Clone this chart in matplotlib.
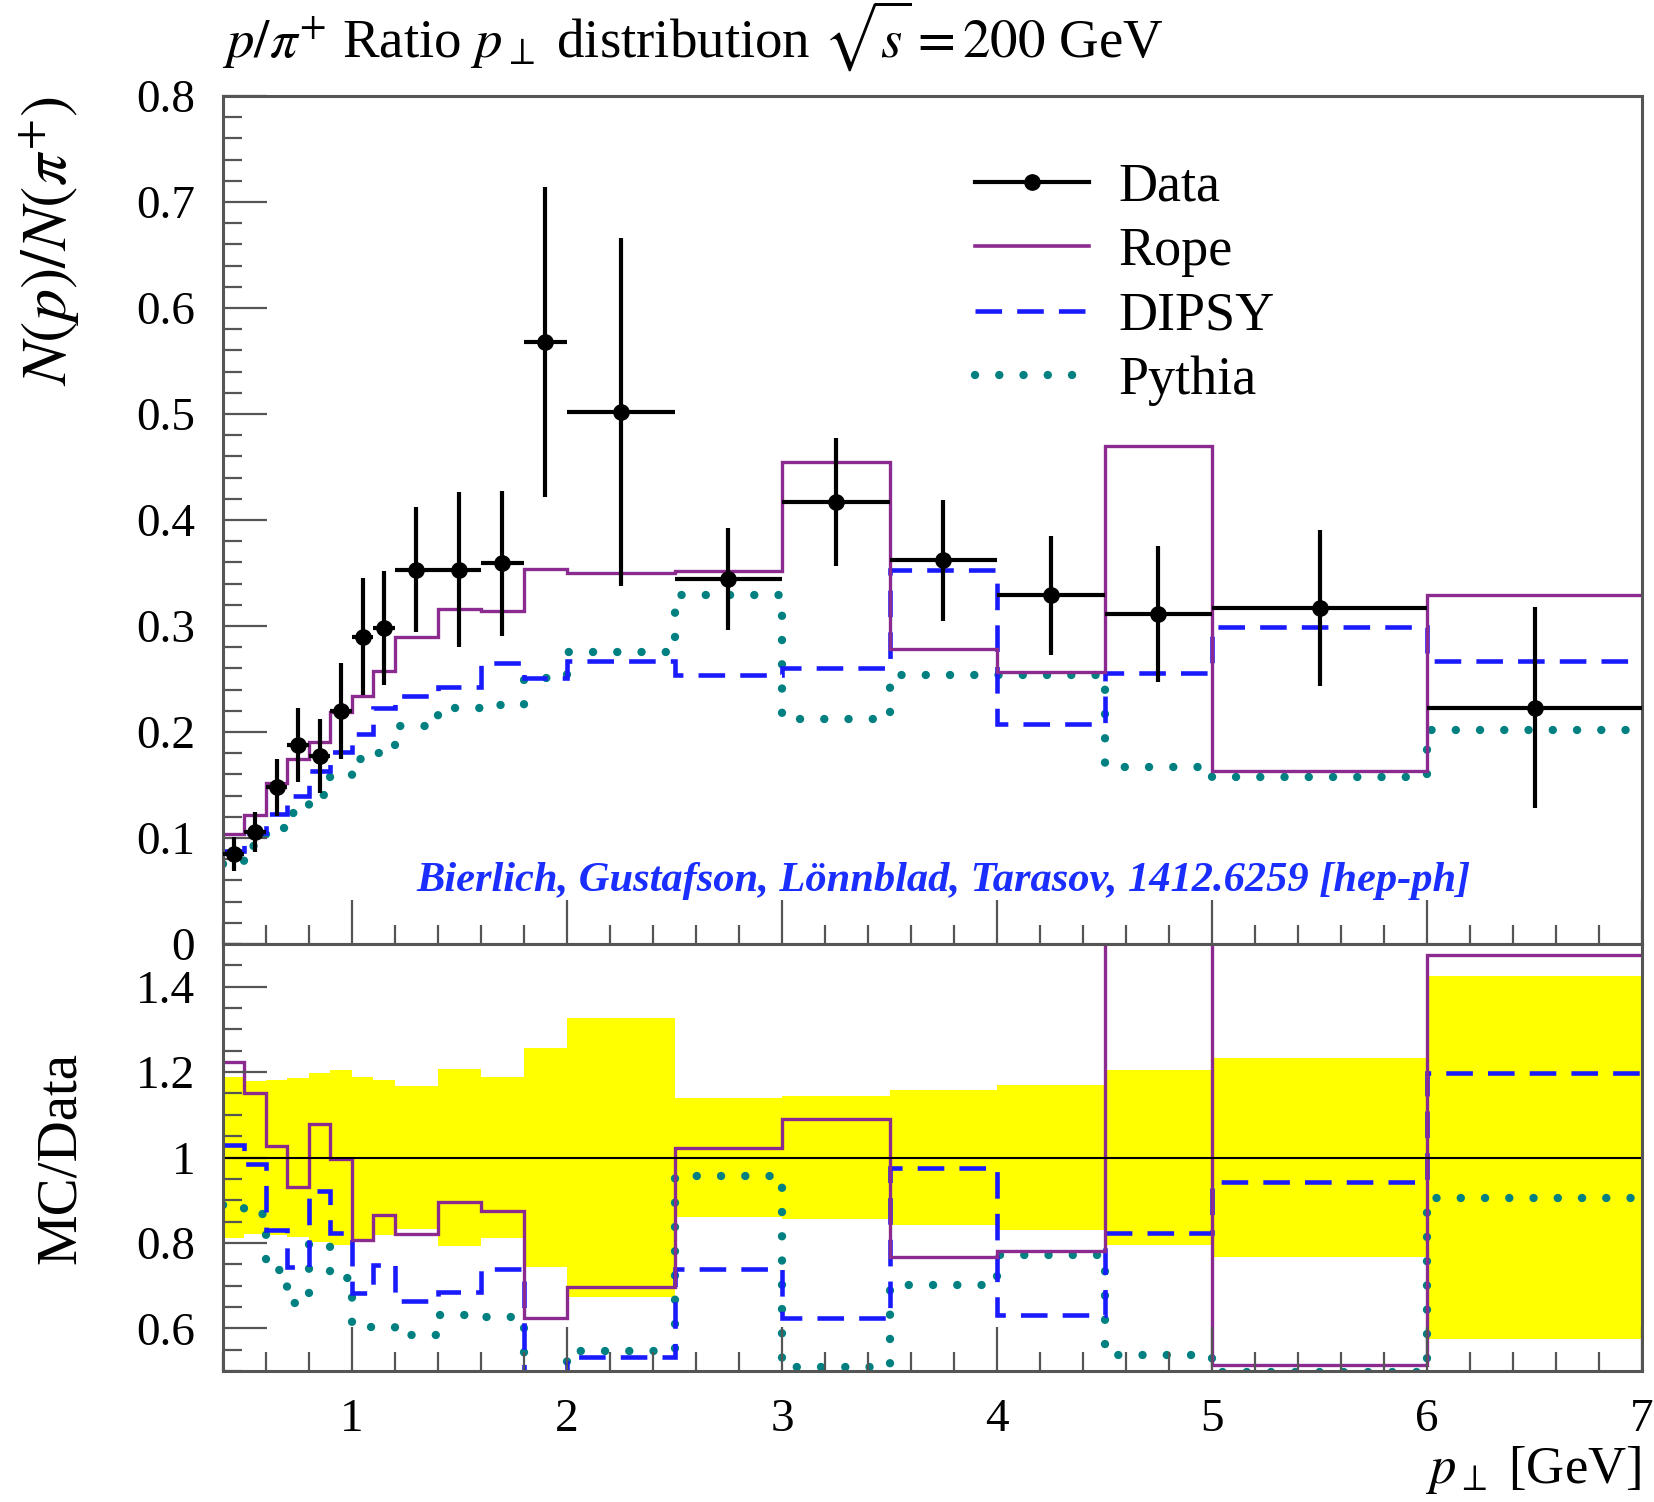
import numpy as np
import matplotlib
matplotlib.use("Agg")
import matplotlib.pyplot as plt
from matplotlib.ticker import MultipleLocator, FuncFormatter
from matplotlib.lines import Line2D

plt.rcParams['font.family'] = ['Liberation Serif', 'DejaVu Serif']
plt.rcParams['mathtext.fontset'] = 'stix'

# bin edges in p_T [GeV]
edges = [0.4, 0.5, 0.6, 0.7, 0.8, 0.9, 1.0, 1.1, 1.2, 1.4, 1.6, 1.8, 2.0,
         2.5, 3.0, 3.5, 4.0, 4.5, 5.0, 6.0, 7.0]

# measured p/pi+ ratio and its error
data_y = [0.085, 0.106, 0.148, 0.188, 0.177, 0.220, 0.290, 0.298, 0.353, 0.353,
          0.359, 0.568, 0.502, 0.344, 0.417, 0.362, 0.329, 0.311, 0.317, 0.223]
data_err = [0.016, 0.019, 0.027, 0.035, 0.035, 0.045, 0.055, 0.054, 0.059, 0.073,
            0.068, 0.146, 0.164, 0.048, 0.060, 0.057, 0.056, 0.064, 0.074, 0.095]

# MC predictions
rope = [0.104, 0.122, 0.152, 0.175, 0.191, 0.219, 0.234, 0.258, 0.290, 0.316,
        0.314, 0.354, 0.350, 0.352, 0.455, 0.278, 0.257, 0.470, 0.163, 0.329]
dipsy = [0.0875, 0.1045, 0.123, 0.140, 0.163, 0.181, 0.198, 0.223, 0.234, 0.242,
         0.265, 0.251, 0.267, 0.254, 0.260, 0.353, 0.208, 0.256, 0.299, 0.267]
pythia = [0.0755, 0.092, 0.109, 0.124, 0.141, 0.158, 0.175, 0.180, 0.206, 0.223,
          0.225, 0.251, 0.275, 0.329, 0.212, 0.254, 0.254, 0.167, 0.158, 0.202]

labels = ["Data", "Rope", "DIPSY", "Pythia"]

purple = '#8b2a8f'
blue = '#1a1aff'
teal = '#008080'
spine_col = '#555555'

e = np.array(edges)
centres = 0.5 * (e[1:] + e[:-1])
half = 0.5 * np.diff(e)
dy = np.array(data_y)
rel = np.array(data_err) / dy

dash_style = (0, (5.8, 3.3))
dot_style = (0, (0.01, 2.9))

fig = plt.figure(figsize=(16.54, 15.02), dpi=100)
ax = fig.add_axes([0.1348, 0.3715, 0.858, 0.5646])
ax2 = fig.add_axes([0.1348, 0.0872, 0.858, 0.2843], sharex=ax)

# ---- top panel ----
ax.stairs(pythia, edges, baseline=None, color=teal, lw=6, linestyle=dot_style,
          capstyle='round')
ax.stairs(dipsy, edges, baseline=None, color=blue, lw=3.3, linestyle=dash_style)
ax.stairs(rope, edges, baseline=None, color=purple, lw=2.4)
ax.errorbar(centres, data_y, xerr=half, yerr=data_err, fmt='o', color='black',
            ms=11, elinewidth=3, capsize=0, zorder=5)

ax.text(1.30, 0.0594, "Bierlich, Gustafson, Lönnblad, Tarasov, 1412.6259 [hep-ph]",
        color='#1a2eff', fontsize=30.6, style='italic', weight='bold',
        ha='left', va='center')

handles = [
    Line2D([], [], color='black', lw=3, marker='o', ms=11),
    Line2D([], [], color=purple, lw=2.6),
    Line2D([], [], color=blue, lw=3.3, linestyle=dash_style),
    Line2D([], [], color=teal, lw=6, linestyle=dot_style, dash_capstyle='round'),
]
ax.legend(handles, labels, loc='upper left', bbox_to_anchor=(0.53, 0.922),
          frameon=False, fontsize=39, handlelength=2.1, handletextpad=0.55,
          labelspacing=0.26, borderpad=0, borderaxespad=0)

ax.set_xlim(0.4, 7)
ax.set_ylim(0, 0.8)
ax.yaxis.set_major_locator(MultipleLocator(0.1))
ax.yaxis.set_minor_locator(MultipleLocator(0.02))
ax.tick_params(labelbottom=False)
ax.text(-0.122, 1.0, r'$N(p)/N(\pi^{+})$', transform=ax.transAxes, rotation=90,
        ha='center', va='top', fontsize=46)

# ---- ratio panel ----
ax2.stairs(1 + rel, edges, baseline=1 - rel, fill=True, color='#ffff00', lw=0)
ax2.axhline(1, color='black', lw=1.5)
ax2.stairs(np.array(pythia) / dy, edges, baseline=None, color=teal, lw=6,
           linestyle=dot_style, capstyle='round')
ax2.stairs(np.array(dipsy) / dy, edges, baseline=None, color=blue, lw=3.3,
           linestyle=dash_style)
ax2.stairs(np.array(rope) / dy, edges, baseline=None, color=purple, lw=2.4)

ax2.set_ylim(0.5, 1.5)
ax2.yaxis.set_major_locator(MultipleLocator(0.2))
ax2.yaxis.set_minor_locator(MultipleLocator(0.05))
ax2.text(-0.114, 1.0, 'MC/Data', transform=ax2.get_yaxis_transform(), rotation=90,
         ha='center', va='center', fontsize=41)

fmt = FuncFormatter(lambda v, _: '%g' % round(v, 3))
for a in (ax, ax2):
    a.xaxis.set_major_locator(MultipleLocator(1))
    a.xaxis.set_minor_locator(MultipleLocator(0.2))
    a.yaxis.set_major_formatter(fmt)
    a.tick_params(which='both', direction='in', top=False, right=False,
                  color=spine_col, width=1.6, labelsize=34, pad=20)
    a.tick_params(which='major', length=32)
    a.tick_params(which='minor', length=14)
    for s in a.spines.values():
        s.set_color(spine_col)
        s.set_linewidth(2.2)

fig.text(0.1342, 0.976, r'$p/\pi^{+}$ Ratio $p_{\perp}$ distribution $\sqrt{s} = 200$ GeV',
         fontsize=39.5, ha='left', va='center')
fig.text(0.992, 0.021, r'$p_{\perp}$ [GeV]', fontsize=38, ha='right', va='center')

fig.savefig('out.png', dpi=100)
